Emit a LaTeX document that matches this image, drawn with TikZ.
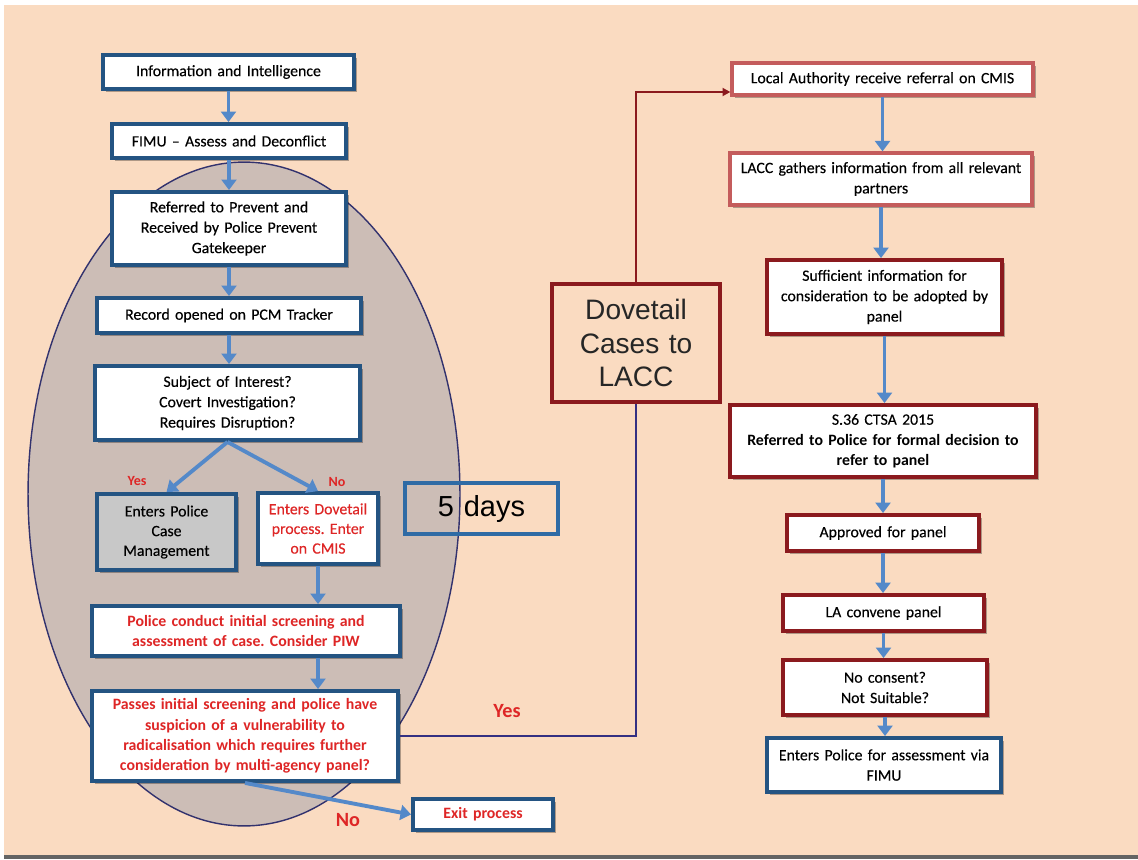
\documentclass[tikz,border=0pt]{standalone}
\usepackage{fontspec}
\setmainfont{Carlito}[UprightFeatures={FakeBold=0.25}]
\newfontfamily\arialfont{Liberation Sans}
\usetikzlibrary{arrows.meta,shadows}
\frenchspacing
\definecolor{peach}{RGB}{250,219,193}
\definecolor{ellfill}{RGB}{204,189,182}
\definecolor{ellline}{RGB}{50,50,110}
\definecolor{boxblue}{RGB}{36,84,130}
\definecolor{dayblue}{RGB}{47,107,165}
\definecolor{arrowblue}{RGB}{84,137,201}
\definecolor{darkred}{RGB}{139,26,30}
\definecolor{lightred}{RGB}{196,92,92}
\definecolor{textred}{RGB}{222,38,38}
\definecolor{pcmgray}{RGB}{200,200,200}
\definecolor{navyline}{RGB}{52,48,130}
\definecolor{barcol}{RGB}{100,100,100}
\newcommand\mkbox[7]{%
  \pgfmathsetmacro\bxw{(#4-#2)*0.02}%
  \pgfmathsetmacro\bxh{(#5-#3)*0.02}%
  \pgfmathsetmacro\bxt{(#4-#2-10)*0.02}%
  \node[#6, minimum width=\bxw cm, minimum height=\bxh cm, text width=\bxt cm] (#1) at ({(#2+#4)/2},{(#3+#5)/2}) {#7};}
\begin{document}
\begin{tikzpicture}[x=0.02cm,y=-0.02cm,
  base/.style={inner sep=0pt, align=center, font=\fontsize{9}{11.6}\selectfont,
    drop shadow={shadow xshift=1.6pt, shadow yshift=-1.6pt, fill=black, opacity=0.3}},
  bluebox/.style={base, draw=boxblue, line width=2.2pt, fill=white},
  redbox/.style={base, draw=darkred, line width=2.2pt, fill=white},
  pinkbox/.style={base, draw=lightred, line width=1.8pt, fill=white},
  redtext/.style={text=textred, font=\fontsize{9}{11.6}\selectfont\bfseries},
  arr/.style={draw=arrowblue, line width=2.2pt, -{Triangle[length=6pt,width=8.5pt]}},
  lbl/.style={text=textred, font=\fontsize{8}{9}\selectfont\bfseries},
  biglbl/.style={text=textred, font=\fontsize{11.5}{13}\selectfont\bfseries},
]
\useasboundingbox (0,0) rectangle (1138,859);
\fill[white] (0,0) rectangle (1138,859);
\fill[peach] (4,5) rectangle (1138,855);
\fill[barcol] (4,855) rectangle (1138,859);
\draw[ellline, line width=0.8pt, fill=ellfill] (244,494) ellipse [x radius=4.32cm, y radius=6.64cm];

% left column
\mkbox{info}{103}{55}{354}{89}{bluebox}{Information and Intelligence}
\mkbox{fimu}{112}{124}{346}{158}{bluebox}{FIMU -- Assess and Deconflict}
\mkbox{ref}{112}{192}{346}{265}{bluebox}{Referred to Prevent and\\Received by Police Prevent\\Gatekeeper}
\mkbox{rec}{97}{298}{361}{333}{bluebox}{Record opened on PCM Tracker}
\mkbox{subj}{95}{366}{360}{440}{bluebox}{Subject of Interest?\\Covert Investigation?\\Requires Disruption?}
\mkbox{pcm}{97}{494}{236}{570}{bluebox,fill=pcmgray,font=\fontsize{9}{11.2}\selectfont}{Enters Police\\Case\\Management}
\mkbox{dove}{258}{493}{378}{564}{bluebox,redtext,font=\fontsize{9}{11.2}\selectfont}{Enters Dovetail\\process. Enter\\on CMIS}
\mkbox{pol}{92}{606}{400}{656}{bluebox,redtext}{Police conduct initial screening and\\assessment of case. Consider PIW}
\mkbox{pass}{92}{691}{398}{781}{bluebox,redtext}{Passes initial screening and police have\\suspicion of a vulnerability to\\radicalisation which requires further\\consideration by multi-agency panel?}
\mkbox{exit}{413}{799}{553}{830}{bluebox,redtext}{Exit process}
\mkbox{days}{405}{483}{558}{534}{draw=dayblue, line width=1.8pt, inner sep=0pt, align=center, font=\arialfont\fontsize{16.5}{18}\selectfont}{5 days}
\mkbox{dcl}{552}{284}{720}{402}{draw=darkred, line width=2.2pt, inner sep=0pt, align=center, text=black!85, font=\arialfont\fontsize{16}{19}\selectfont}{Dovetail\\Cases to\\LACC}

% right column
\mkbox{la}{732}{63}{1033}{95}{pinkbox}{Local Authority receive referral on CMIS}
\mkbox{lacc}{730}{153}{1032}{205}{pinkbox}{LACC gathers information from all relevant\\partners}
\mkbox{suff}{767}{260}{1002}{334}{redbox}{Sufficient information for\\consideration to be adopted by\\panel}
\mkbox{s36}{730}{405}{1036}{477}{redbox}{S.36 CTSA 2015\\\textbf{Referred to Police for formal decision to}\\\textbf{refer to panel}}
\mkbox{appr}{787}{515}{979}{551}{redbox}{Approved for panel}
\mkbox{conv}{783}{595}{984}{631}{redbox}{LA convene panel}
\mkbox{nocon}{783}{660}{987}{715}{redbox}{No consent?\\Not Suitable?}
\mkbox{entf}{767}{738}{1001}{792}{bluebox}{Enters Police for assessment via\\FIMU}

% left arrows
\draw[arr] (info.south) -- (info.south |- fimu.north);
\draw[arr] (fimu.south) -- (fimu.south |- ref.north);
\draw[arr] (ref.south) -- (ref.south |- rec.north);
\draw[arr] (rec.south) -- (rec.south |- subj.north);
\draw[arr] (subj.south) -- (pcm.north);
\draw[arr] (subj.south) -- (dove.north);
\draw[arr] (dove.south) -- (dove.south |- pol.north);
\draw[arr] (dove.south |- pol.south) -- (dove.south |- pass.north);
\draw[arr] (pass.south) -- (exit.west);

% yes route
\draw[navyline, line width=1.2pt] (pass.east) -- (pass.east -| dcl.south) -- (dcl.south);
\draw[darkred, line width=1.3pt, -{Triangle[length=4.5pt,width=4.5pt]}] (dcl.north) |- ([yshift=-0.26cm]la.west);

% right arrows
\draw[arr] (la.south) -- (la.south |- lacc.north);
\draw[arr] (lacc.south) -- (lacc.south |- suff.north);
\draw[arr] (suff.south) -- (suff.south |- s36.north);
\draw[arr] (s36.south) -- (s36.south |- appr.north);
\draw[arr] (appr.south) -- (appr.south |- conv.north);
\draw[arr] (conv.south) -- (conv.south |- nocon.north);
\draw[arr] (nocon.south) -- (nocon.south |- entf.north);

% labels
\node[lbl] (lyes) at (137,481) {Yes};
\node[lbl] (lno) at (337,482) {No};
\node[biglbl] (byes) at (507,711) {Yes};
\node[biglbl] (bno) at (348,820) {No};
\end{tikzpicture}
\end{document}
